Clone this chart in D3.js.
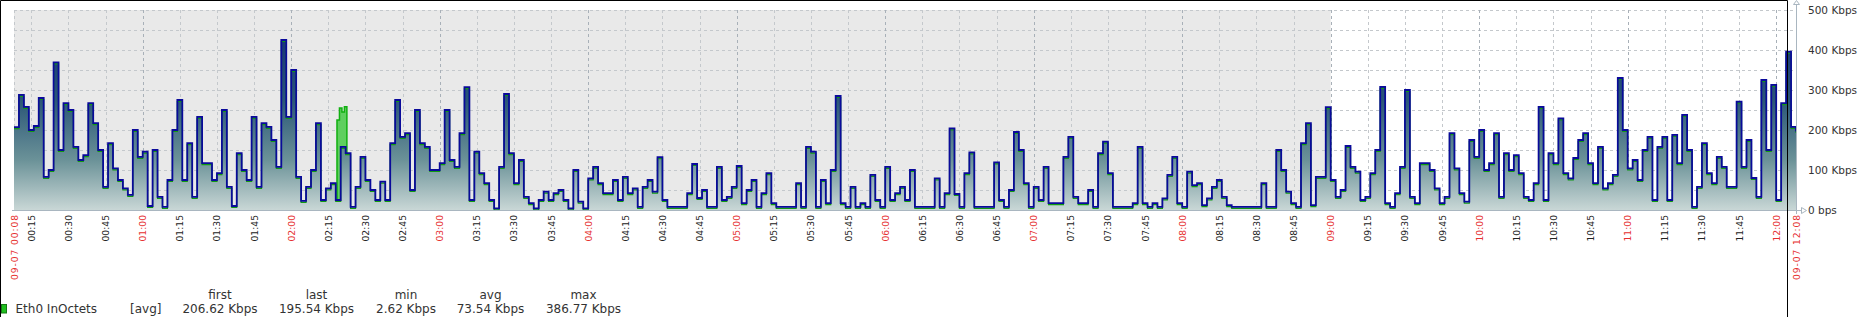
<!DOCTYPE html>
<html lang="en">
<head>
<meta charset="UTF-8">
<title>Eth0 InOctets</title>
<style>
body { margin: 0; background: #fff; }
svg { display: block; font-family: "DejaVu Sans", sans-serif; }
</style>
</head>
<body>
<script src="https://d3js.org/d3.v7.min.js"></script>
<script>
// samples every 2 minutes, 09-07 00:08 .. 09-07 12:08, in Kbps
var startTime = new Date(2023, 8, 7, 0, 8);
var endTime = new Date(2023, 8, 7, 12, 8);
var workEnd = new Date(2023, 8, 7, 9, 0);
var stepMinutes = 2;

var inOctets = [
207,288,258,200,210,280,83,100,369,150, 267,250,158,125,137,267,217,150,58,167,
104,75,54,38,200,133,146,10,150,33, 8,75,200,275,75,167,33,233,117,117,
75,92,250,58,10,142,100,75,233,58, 217,208,175,108,425,233,350,83,23,58,
100,217,25,54,67,25,158,142,8,58, 133,75,50,25,71,25,167,275,183,192,
50,250,167,158,100,100,117,250,125,108, 192,307,25,146,92,67,25,4,108,290,
142,67,125,33,17,4,25,46,25,42, 50,25,4,100,21,4,79,108,67,42,
42,75,25,83,42,54,8,58,75,46, 132,25,8,8,8,8,42,115,30,50,
8,8,108,25,33,58,110,17,50,75, 8,42,92,17,8,8,8,8,67,8,
158,146,8,75,17,100,285,17,8,58, 8,17,8,88,25,8,108,25,42,58,
25,100,8,8,8,8,79,8,42,204, 40,8,92,144,8,8,8,8,119,25,
8,50,195,150,67,8,58,25,108,17, 17,17,133,183,33,17,17,50,8,142,
171,92,8,8,8,8,17,158,17,8, 17,8,29,88,133,17,8,96,62,67,
12,29,58,75,33,12,8,8,8,8, 8,8,67,8,8,150,100,46,17,8,
167,217,12,83,83,257,75,33,50,160, 108,96,25,33,92,150,308,17,8,42,
108,300,33,17,117,117,100,54,17,33, 192,104,42,21,175,133,200,100,117,192,
33,142,100,137,92,33,25,67,258,25, 142,117,229,92,79,130,175,192,117,67,
158,54,67,88,330,200,104,125,75,150, 183,25,158,183,25,188,117,238,150,8,
58,167,92,67,133,108,58,58,271,108, 175,80,33,325,150,313,25,267,396,208,
196
];

// short excursion around 02:18 drawn in plain green (minutes after start)
var spikeMinutes = [130.5, 131.5, 132.5, 133.5, 134.5];
var spikeValues = [225, 255, 245, 258, 0];

var gridValues = [0, 50, 100, 150, 200, 250, 300, 350, 400, 450, 500];
var yTicks = [0, 100, 200, 300, 400, 500];
var yTickLabels = ["0 bps", "100 Kbps", "200 Kbps", "300 Kbps", "400 Kbps", "500 Kbps"];

var legendName = "Eth0 InOctets";
var legendFunc = "[avg]";
var statNames = ["first", "last", "min", "avg", "max"];
var statValues = ["206.62 Kbps", "195.54 Kbps", "2.62 Kbps", "73.54 Kbps", "386.77 Kbps"];

var W = 1870, H = 317;
var plot = {left: 14, right: 1796, top: 10, bottom: 210};

var x = d3.scaleTime().domain([startTime, endTime]).range([plot.left, plot.right]);
var y = d3.scaleLinear().domain([0, 500]).range([plot.bottom, plot.top]);

var data = inOctets.map(function (v, i) {
    return {t: d3.timeMinute.offset(startTime, i * stepMinutes), v: v};
});
var spike = spikeMinutes.map(function (m, i) {
    return {t: new Date(startTime.getTime() + m * 60000), v: spikeValues[i]};
});

var svg = d3.select('body').append('svg')
    .attr('width', W)
    .attr('height', H);

var defs = svg.append('defs');
var grad = defs.append('linearGradient')
    .attr('id', 'fillGrad')
    .attr('gradientUnits', 'userSpaceOnUse')
    .attr('x1', 0).attr('x2', 0)
    .attr('y1', plot.top).attr('y2', plot.bottom);
grad.append('stop').attr('offset', 0).attr('stop-color', '#0d2a72');
grad.append('stop').attr('offset', 0.45).attr('stop-color', '#2a5677');
grad.append('stop').attr('offset', 0.75).attr('stop-color', '#6b9298');
grad.append('stop').attr('offset', 1).attr('stop-color', '#c9d7d6');

// shaded part of the period (before 09:00)
svg.append('rect')
    .attr('x', plot.left)
    .attr('y', plot.top)
    .attr('width', x(workEnd) - plot.left)
    .attr('height', plot.bottom - plot.top)
    .style('fill', '#e9e9e9');

// horizontal grid
svg.append('g').selectAll('line')
    .data(gridValues.slice(1))
    .enter().append('line')
    .attr('x1', plot.left).attr('x2', plot.right)
    .attr('y1', d => Math.round(y(d)) + 0.5)
    .attr('y2', d => Math.round(y(d)) + 0.5)
    .style('stroke', '#c4c8cc')
    .style('stroke-dasharray', '3,3');

// vertical grid
var ticks = d3.timeMinute.every(15).range(d3.timeMinute.offset(startTime, 1), endTime);
svg.append('g').selectAll('line')
    .data([startTime].concat(ticks))
    .enter().append('line')
    .attr('x1', d => Math.round(x(d)) + 0.5)
    .attr('x2', d => Math.round(x(d)) + 0.5)
    .attr('y1', plot.top).attr('y2', plot.bottom)
    .style('stroke', d => d.getMinutes() === 0 ? '#a8b0b8' : '#c4c8cc')
    .style('stroke-dasharray', '3,3');

// green excursion
svg.append('path')
    .datum(spike)
    .attr('d', d3.area().curve(d3.curveStepAfter).x(d => x(d.t)).y0(y(0)).y1(d => y(d.v)))
    .style('fill', '#5fcf5f')
    .style('stroke', '#10b010')
    .style('stroke-width', 1.5);

// main area
svg.append('path')
    .datum(data)
    .attr('d', d3.area().curve(d3.curveStepAfter).x(d => x(d.t)).y0(y(0)).y1(d => y(d.v)))
    .style('fill', 'url(#fillGrad)');

var stepLine = d3.line().curve(d3.curveStepAfter).x(d => x(d.t)).y(d => y(d.v));

svg.append('path')
    .datum(data)
    .attr('d', stepLine)
    .attr('transform', 'translate(0,1.5)')
    .style('fill', 'none')
    .style('stroke', '#119a11')
    .style('stroke-width', 1.2);

svg.append('path')
    .datum(data)
    .attr('d', stepLine)
    .style('fill', 'none')
    .style('stroke', '#0a0a9a')
    .style('stroke-width', 1.8);

// axes
var axisColor = '#a9b6c0';
svg.append('line')
    .attr('x1', plot.left - 2).attr('x2', plot.right + 5)
    .attr('y1', plot.bottom + 0.5).attr('y2', plot.bottom + 0.5)
    .style('stroke', axisColor);
svg.append('path')
    .attr('d', `M${plot.right + 5.5},${plot.bottom - 2.5} L${plot.right + 10.5},${plot.bottom + 0.5} L${plot.right + 5.5},${plot.bottom + 3.5} Z`)
    .style('fill', '#fff').style('stroke', axisColor);
svg.append('line')
    .attr('x1', plot.right + 0.5).attr('x2', plot.right + 0.5)
    .attr('y1', 4).attr('y2', plot.bottom + 4)
    .style('stroke', axisColor);
svg.append('path')
    .attr('d', `M${plot.right - 2.5},4.5 L${plot.right + 0.5},0.5 L${plot.right + 3.5},4.5 Z`)
    .style('fill', '#fff').style('stroke', axisColor);

svg.append('g').selectAll('text')
    .data(yTicks)
    .enter().append('text')
    .attr('x', plot.right + 12)
    .attr('y', d => y(d) + 3.8)
    .text((d, i) => yTickLabels[i])
    .style('font-size', '10.5px')
    .style('fill', '#333');

// time labels
var fmt = d3.timeFormat('%H:%M');
var fmtFull = d3.timeFormat('%m-%d %H:%M');
var labels = ticks.map(d => ({t: d, text: fmt(d), red: d.getMinutes() === 0, full: false}));
labels.unshift({t: startTime, text: fmtFull(startTime), red: true, full: true});
labels.push({t: endTime, text: fmtFull(endTime), red: true, full: true});

svg.append('g').selectAll('text')
    .data(labels)
    .enter().append('text')
    .attr('transform', d => `translate(${x(d.t) + 3.5},${plot.bottom + 5}) rotate(-90)`)
    .attr('text-anchor', 'end')
    .attr('textLength', d => d.full ? 65 : null)
    .attr('lengthAdjust', 'spacing')
    .text(d => d.text)
    .style('font-size', '9.2px')
    .style('fill', d => d.red ? '#e63030' : '#222');

// frame
svg.append('path')
    .attr('d', 'M0.5,317 V0.5 H1787.5 V317')
    .style('fill', 'none')
    .style('stroke', '#000');

// legend
var legY = 313;
svg.append('rect')
    .attr('x', 1.5).attr('y', 304.5)
    .attr('width', 5).attr('height', 8.5)
    .style('fill', '#1fbf1f')
    .style('stroke', '#157a15');
svg.append('text').attr('x', 15.5).attr('y', legY).text(legendName)
    .style('font-size', '12px').style('fill', '#333');
svg.append('text').attr('x', 130).attr('y', legY).text(legendFunc)
    .style('font-size', '12px').style('fill', '#333');

var statCenters = [220, 316.5, 406, 490.5, 583.5];
svg.append('g').selectAll('text')
    .data(statNames)
    .enter().append('text')
    .attr('x', (d, i) => statCenters[i])
    .attr('y', 299)
    .attr('text-anchor', 'middle')
    .text(d => d)
    .style('font-size', '12px').style('fill', '#333');
svg.append('g').selectAll('text')
    .data(statValues)
    .enter().append('text')
    .attr('x', (d, i) => statCenters[i])
    .attr('y', legY)
    .attr('text-anchor', 'middle')
    .text(d => d)
    .style('font-size', '12px').style('fill', '#333');
</script>
</body>
</html>
